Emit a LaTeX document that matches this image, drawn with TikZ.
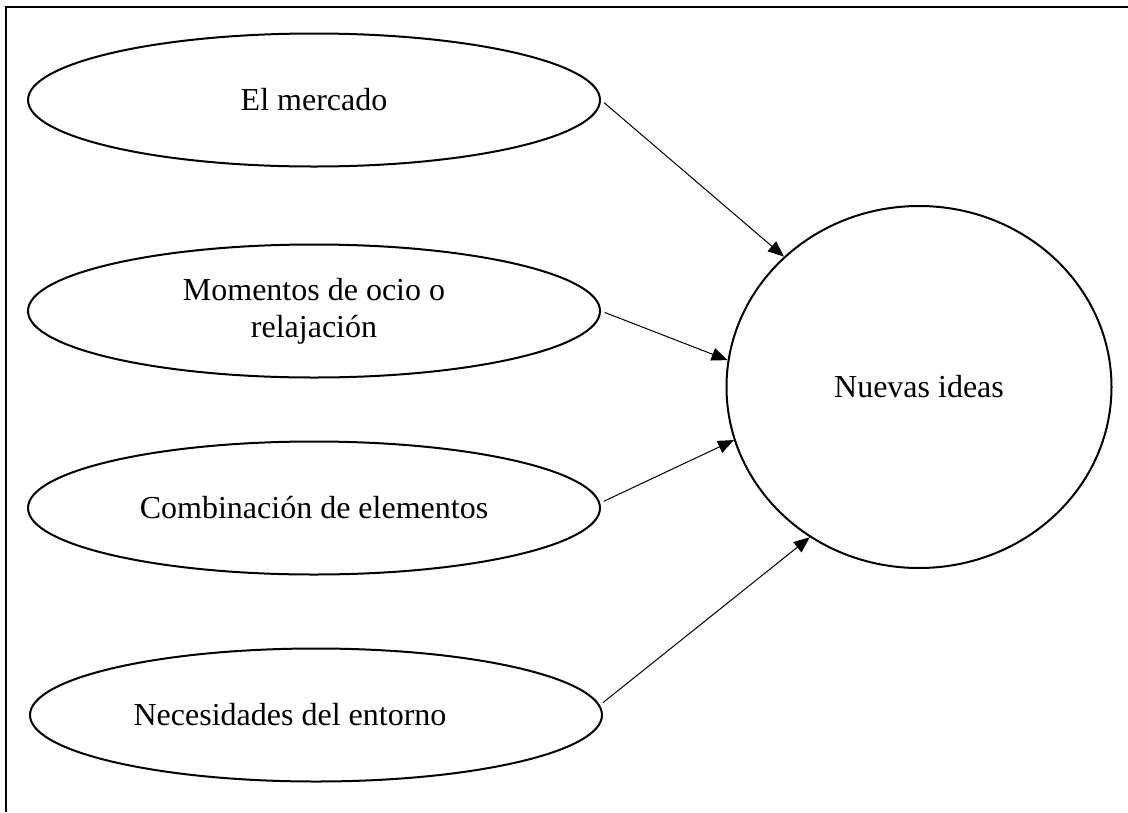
\documentclass[tikz,border=0pt]{standalone}
\usepackage{fontspec}
\setmainfont{Liberation Serif}
\usetikzlibrary{shapes.geometric, arrows.meta}

\begin{document}
\begin{tikzpicture}[x=1pt, y=-1pt,
          cause/.style={ellipse, draw, line width=2pt, inner sep=0pt,
                        minimum width=572pt, minimum height=133pt,
                        font=\fontsize{32pt}{37pt}\selectfont, align=center},
          goal/.style={ellipse, draw, line width=2pt, inner sep=0pt,
                       minimum width=385pt, minimum height=362pt,
                       font=\fontsize{32pt}{37pt}\selectfont},
          arr/.style={-{Triangle[length=16pt, width=13pt]}, line width=1pt,
                      shorten <=4pt}
        ]
        \useasboundingbox (0,0) rectangle (1128,812);
        % Frame (cut at the right and bottom edges)
        \draw[line width=2pt] (5.5,812) -- (5.5,6.5) -- (1128,6.5);

        % Sources
        \node[cause] (mer) at (314,100) {El mercado};
        \node[cause] (oci) at (314,311) {Momentos de ocio o\\relajación};
        \node[cause] (com) at (314,508) {Combinación de elementos};
        \node[cause] (nec) at (316,715) {Necesidades del entorno\hspace*{52pt}};

        % Result
        \node[goal] (ide) at (919,387) {Nuevas ideas};

        % Arrows
        \draw[arr] (mer.east)  -- (ide.136.5);
        \draw[arr] (oci.east)  -- (ide.172.3);
        \draw[arr] (com.1.4)   -- (ide.196.4);
        \draw[arr] (nec.2.2)   -- (ide.234.4);
\end{tikzpicture}
\end{document}
